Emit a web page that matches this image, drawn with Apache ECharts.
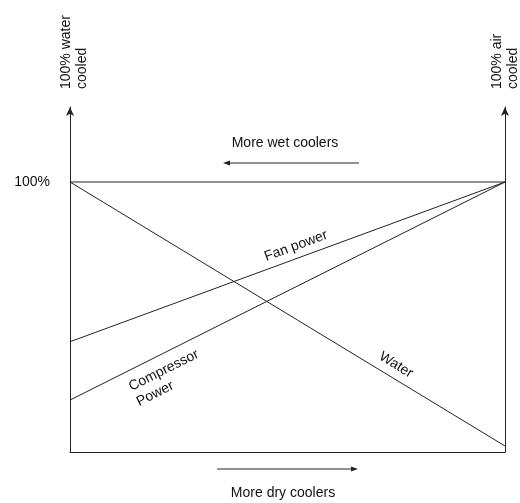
<!DOCTYPE html>
<html><head><meta charset="utf-8">
<script src="https://cdn.jsdelivr.net/npm/echarts@6/dist/echarts.min.js"></script>
<style>html,body{margin:0;padding:0;background:#fff}#c{width:520px;height:503px}</style>
</head><body><div id="c"></div>
<script>
// share of dry coolers (0 = 100% water cooled, 100 = 100% air cooled)
const xShare = [0, 100];
const totalLevel = [100, 100];
const waterUse = [100, 0];
const fanPower = [39.5, 100];
const compressorPower = [17.4, 100];
const yTickValues = [100];

const FONT = '"Liberation Sans", Arial, sans-serif';
const INK = '#111';
const LINE = '#222';

function pairs(ys) { return xShare.map((x, i) => [x, ys[i]]); }

function lineSeries(name, ys) {
  return {
    name, type: 'line', data: pairs(ys), symbol: 'none', silent: true,
    lineStyle: { color: LINE, width: 1 }, clip: false
  };
}

const chart = echarts.init(document.getElementById('c'), null, { renderer: 'canvas' });

const axisLineArrow = { show: true, onZero: false, symbol: ['none', 'arrow'], symbolSize: [6, 9], lineStyle: { color: LINE, width: 1 } };

chart.setOption({
  animation: false,
  backgroundColor: '#fff',
  textStyle: { fontFamily: FONT },
  grid: { left: 70, right: 15, top: 107, bottom: 51, containLabel: false },
  xAxis: {
    type: 'value', min: 0, max: 100,
    axisLine: { show: true, onZero: false, lineStyle: { color: LINE, width: 1 } },
    axisTick: { show: false }, axisLabel: { show: false }, splitLine: { show: false }
  },
  yAxis: [{
    type: 'value', min: -2.27, max: 128.41, position: 'left',
    axisLine: axisLineArrow,
    axisTick: { show: false }, splitLine: { show: false },
    axisLabel: { show: true, customValues: yTickValues, formatter: v => v + '%', margin: 20, fontSize: 14, color: INK, fontFamily: FONT }
  }, {
    type: 'value', min: -2.27, max: 128.41, position: 'right',
    axisLine: axisLineArrow,
    axisTick: { show: false }, splitLine: { show: false }, axisLabel: { show: false }
  }],
  series: [
    lineSeries('Total', totalLevel),
    lineSeries('Water', waterUse),
    lineSeries('Fan power', fanPower),
    lineSeries('Compressor Power', compressorPower)
  ],
  graphic: [
    { type: 'text', x: 58, y: 89, rotation: Math.PI / 2,
      style: { text: '100% water\ncooled', fill: INK, font: '14px ' + FONT, align: 'left', verticalAlign: 'top', lineHeight: 16 } },
    { type: 'text', x: 489, y: 89, rotation: Math.PI / 2,
      style: { text: '100% air\ncooled', fill: INK, font: '14px ' + FONT, align: 'left', verticalAlign: 'top', lineHeight: 16 } },
    { type: 'text', x: 285, y: 143,
      style: { text: 'More wet coolers', fill: INK, font: '14px ' + FONT, align: 'center', verticalAlign: 'middle' } },
    { type: 'text', x: 283, y: 493,
      style: { text: 'More dry coolers', fill: INK, font: '14px ' + FONT, align: 'center', verticalAlign: 'middle' } },
    { type: 'line', shape: { x1: 229, y1: 163, x2: 359, y2: 163 }, style: { stroke: LINE, lineWidth: 1 } },
    { type: 'polygon', shape: { points: [[223, 163], [230, 160.5], [230, 165.5]] }, style: { fill: LINE } },
    { type: 'line', shape: { x1: 217, y1: 469, x2: 352, y2: 469 }, style: { stroke: LINE, lineWidth: 1 } },
    { type: 'polygon', shape: { points: [[358, 469], [351, 466.5], [351, 471.5]] }, style: { fill: LINE } },
    { type: 'text', x: 296, y: 246, rotation: Math.atan(160 / 435),
      style: { text: 'Fan power', fill: INK, font: '14px ' + FONT, align: 'center', verticalAlign: 'middle' } },
    { type: 'text', x: 126, y: 380, rotation: Math.atan(218 / 435),
      style: { text: 'Compressor\nPower', fill: INK, font: '14px ' + FONT, align: 'left', verticalAlign: 'top', lineHeight: 17 } },
    { type: 'text', x: 396, y: 365, rotation: -Math.atan(264 / 435),
      style: { text: 'Water', fill: INK, font: '14px ' + FONT, align: 'center', verticalAlign: 'middle' } }
  ]
});
</script>
</body></html>
